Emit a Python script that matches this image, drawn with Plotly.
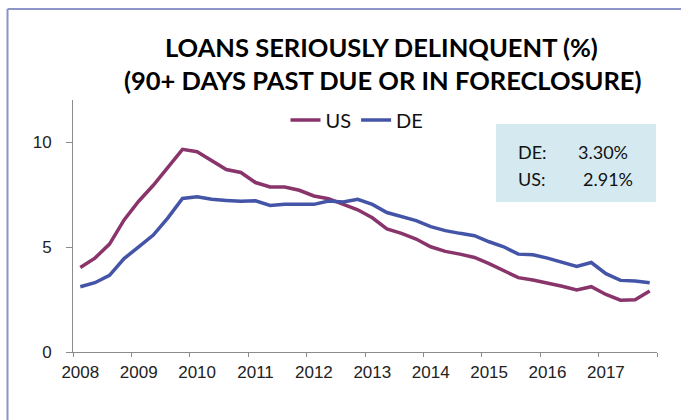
import plotly.graph_objects as go

years = ["2008", "2009", "2010", "2011", "2012", "2013", "2014", "2015", "2016", "2017"]
quarters_per_year = 4

us = [4.02, 4.47, 5.14, 6.29, 7.18, 7.94, 8.79, 9.65, 9.54, 9.10,
      8.69, 8.55, 8.07, 7.86, 7.86, 7.70, 7.43, 7.30, 7.03, 6.77,
      6.39, 5.86, 5.65, 5.38, 5.01, 4.79, 4.66, 4.50, 4.21, 3.89,
      3.54, 3.43, 3.30, 3.13, 2.95, 3.11, 2.74, 2.47, 2.49, 2.91]
de = [3.11, 3.30, 3.65, 4.45, 5.01, 5.57, 6.39, 7.31, 7.39, 7.27,
      7.22, 7.18, 7.20, 6.98, 7.04, 7.05, 7.03, 7.19, 7.14, 7.27,
      7.03, 6.64, 6.47, 6.26, 5.97, 5.78, 5.65, 5.54, 5.25, 5.01,
      4.66, 4.63, 4.47, 4.26, 4.07, 4.26, 3.73, 3.41, 3.38, 3.30]

latest_labels = ["DE:", "US:"]
latest_values = ["3.30%", "2.91%"]

x = list(range(len(us)))
US_COLOR = "#89346A"
DE_COLOR = "#4454A6"
AXIS_COLOR = "#8C8C8C"

fig = go.Figure()
fig.add_trace(go.Scatter(x=x, y=us, mode="lines", name="US",
                         line=dict(color=US_COLOR, width=3.5)))
fig.add_trace(go.Scatter(x=x, y=de, mode="lines", name="DE",
                         line=dict(color=DE_COLOR, width=3.5)))

W, H = 681, 420
L, R, T, B = 73, 24, 100, 68
pw, ph = W - L - R, H - T - B

def px(xp):
    return (xp - L) / pw

def py(yp):
    return (H - B - yp) / ph

fig.update_layout(
    width=W, height=H,
    margin=dict(l=L, r=R, t=T, b=B),
    paper_bgcolor="white", plot_bgcolor="white",
    showlegend=True,
    legend=dict(orientation="h", x=px(357), y=py(120), xanchor="center", yanchor="middle",
                font=dict(family="Lato", size=20, color="#111"),
                bgcolor="rgba(0,0,0,0)", itemwidth=30, tracegroupgap=0),
    font=dict(family="Liberation Sans"),
)

fig.update_xaxes(
    range=[-0.5, len(us) - 0.5],
    tickmode="array",
    tickvals=[i * quarters_per_year for i in range(len(years))],
    ticktext=years,
    ticks="",
    showgrid=False, zeroline=False,
    showline=True, linecolor=AXIS_COLOR, linewidth=1,
    tickfont=dict(family="Liberation Sans", size=17, color="#222"),
    ticklabelstandoff=5,
    minor=dict(tick0=-0.5, dtick=quarters_per_year, ticks="outside", ticklen=4,
               tickcolor=AXIS_COLOR, tickwidth=1, showgrid=False),
)
fig.update_yaxes(
    range=[0, 12],
    tickmode="array", tickvals=[0, 5, 10],
    ticks="outside", ticklen=6, tickcolor=AXIS_COLOR,
    showgrid=False, zeroline=False,
    showline=True, linecolor=AXIS_COLOR, linewidth=1,
    tickfont=dict(family="Liberation Sans", size=17, color="#222"),
    ticklabelstandoff=11,
)

shapes = [
    # outer chart border (left and top visible)
    dict(type="line", xref="paper", yref="paper", x0=px(7.5), x1=px(7.5), y0=py(9), y1=py(440),
         line=dict(color="#8C94C8", width=2)),
    dict(type="line", xref="paper", yref="paper", x0=px(7.5), x1=px(700), y0=py(9), y1=py(9),
         line=dict(color="#8C94C8", width=2)),
    # info box
    dict(type="rect", xref="paper", yref="paper", x0=px(496), x1=px(656), y0=py(202), y1=py(124),
         fillcolor="#D5EAF0", line=dict(width=0), layer="below"),
]
fig.update_layout(shapes=shapes)

ann = []
title_font = dict(family="Lato", size=25.5, color="#000")
ann.append(dict(text="<b>LOANS SERIOUSLY DELINQUENT (%)</b>", xref="paper", yref="paper",
                x=px(382), y=py(47), xanchor="center", yanchor="middle", showarrow=False,
                font=title_font))
ann.append(dict(text="<b>(90+ DAYS PAST DUE OR IN FORECLOSURE)</b>", xref="paper", yref="paper",
                x=px(383), y=py(80), xanchor="center", yanchor="middle", showarrow=False,
                font=title_font))
box_font = dict(family="Lato", size=18, color="#111")
rows_y = [152, 179]
rows_right = [630, 635]
for lab, val, yy, xr in zip(latest_labels, latest_values, rows_y, rows_right):
    ann.append(dict(text=lab, xref="paper", yref="paper", x=px(516), y=py(yy),
                    xanchor="left", yanchor="middle", showarrow=False, font=box_font))
    ann.append(dict(text=val, xref="paper", yref="paper", x=px(xr), y=py(yy),
                    xanchor="right", yanchor="middle", showarrow=False, font=box_font))
fig.update_layout(annotations=ann)

fig.write_html("out.html")
